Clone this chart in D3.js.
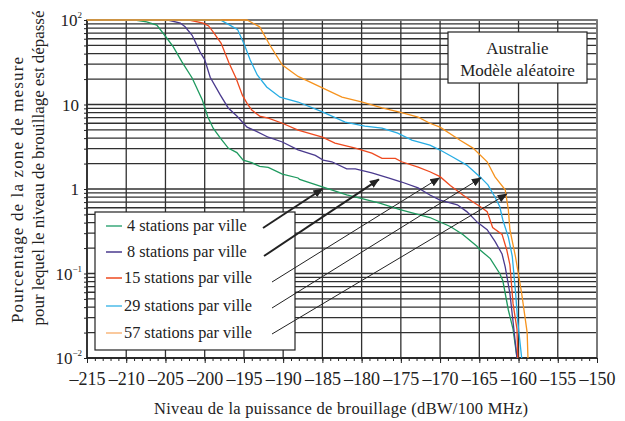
<!DOCTYPE html>
<html>
<head>
<meta charset="utf-8">
<script src="https://cdn.jsdelivr.net/npm/d3@7/dist/d3.min.js"></script>
<style>
  html, body { margin: 0; padding: 0; background: #fff; }
  svg { display: block; }
</style>
</head>
<body>
<svg id="chart" width="625" height="421"></svg>
<script>
// Interference level (dBW/100 MHz) vs percentage of the measurement area exceeded
const FONT = "Liberation Serif";
const seriesLabels = [
  "4 stations par ville",
  "8 stations par ville",
  "15 stations par ville",
  "29 stations par ville",
  "57 stations par ville"
];
const seriesColors = ["#1f9a5f", "#4a3a8e", "#ee4a1f", "#27ade4", "#f6931e"];
const legendColors = ["#3aa97b", "#4a3a8e", "#ee4a1f", "#4cbbe8", "#f8b77c"];

const series4 = [
  [-215,100],[-208.9,100],[-207.4,95],[-206.1,87],[-205.1,66],[-204.0,48],[-202.9,32],
  [-201.6,20.6],[-200.3,11.3],[-199.6,7.1],[-198.9,5.2],[-198.0,4.0],[-197.0,3.05],
  [-195.9,2.7],[-195.1,2.2],[-194.0,2.05],[-193.0,1.85],[-191.9,1.8],[-190.1,1.5],
  [-188.1,1.35],[-187.9,1.3],[-185.0,1.06],[-181.9,0.85],[-180.2,0.78],[-177.7,0.68],
  [-175.1,0.57],[-171.3,0.46],[-168.7,0.36],[-167.1,0.29],[-165.3,0.21],[-164.9,0.19],
  [-163.6,0.15],[-162.4,0.10],[-162.0,0.082],[-161.3,0.037],[-160.7,0.022],[-160.2,0.01]
];
const series8 = [
  [-215,100],[-204.7,100],[-203.1,92],[-202.5,83],[-201.6,66],[-200.6,42],[-200.0,34],
  [-199.3,21],[-198.0,12.9],[-197.0,9.1],[-195.9,7.3],[-194.6,5.4],[-193.6,4.9],
  [-191.9,4.1],[-190.1,3.6],[-188.1,2.9],[-185.9,2.5],[-184.9,2.2],[-183.8,2.1],
  [-181.9,1.73],[-180.8,1.73],[-178.7,1.55],[-176.6,1.35],[-174.9,1.21],[-172.8,1.03],
  [-171.3,0.85],[-170.0,0.74],[-167.8,0.65],[-166.6,0.54],[-165.2,0.40],[-164.0,0.33],
  [-163.0,0.24],[-162.1,0.17],[-161.7,0.12],[-161.1,0.058],[-160.7,0.027],[-160.2,0.01]
];
const series15 = [
  [-215,100],[-202.0,100],[-200.2,92],[-199.5,85],[-198.9,72],[-197.9,53],[-196.9,31],
  [-196.0,20.5],[-195.2,12.9],[-194.6,10.3],[-194.0,8.6],[-193.0,7.3],[-191.9,6.9],
  [-190.1,6.0],[-188.1,4.97],[-185.0,4.1],[-183.4,3.5],[-180.8,3.05],[-178.7,2.66],
  [-177.4,2.3],[-175.7,2.3],[-174.9,2.1],[-172.8,1.82],[-171.3,1.6],[-170.0,1.4],
  [-168.7,1.1],[-167.1,0.85],[-165.9,0.71],[-164.9,0.62],[-164.0,0.54],[-163.3,0.35],
  [-162.1,0.29],[-161.5,0.19],[-161.1,0.127],[-160.7,0.044],[-160.2,0.022],[-160.1,0.01]
];
const series29 = [
  [-215,100],[-198.0,100],[-196.8,87],[-195.8,77],[-194.9,50],[-194.2,33.7],[-193.3,22.4],
  [-192.1,16.1],[-190.4,12.2],[-188.1,10.7],[-185.0,8.2],[-182.1,6.2],[-179.6,5.55],
  [-177.4,5.25],[-175.4,4.58],[-173.6,3.79],[-171.3,3.31],[-170.0,2.89],[-168.4,2.39],
  [-166.6,1.92],[-164.9,1.39],[-163.9,1.12],[-163.0,0.80],[-162.4,0.62],[-162.0,0.43],
  [-161.3,0.27],[-160.8,0.16],[-160.4,0.063],[-160.1,0.027],[-159.6,0.01]
];
const series57 = [
  [-215,100],[-194.6,100],[-193.0,83],[-191.7,50.6],[-190.1,29.3],[-188.1,21.5],
  [-185.0,15.7],[-182.5,12.2],[-179.9,10.7],[-177.4,9.1],[-174.9,8.0],[-172.8,7.1],
  [-171.3,6.0],[-170.0,5.4],[-167.5,3.8],[-165.8,3.05],[-164.0,2.1],[-163.0,1.39],
  [-161.7,0.98],[-161.3,0.57],[-161.1,0.33],[-160.4,0.16],[-159.6,0.058],[-158.9,0.020],
  [-158.8,0.01]
];
const allSeries = [series4, series8, series15, series29, series57];

// Points on each curve that the legend arrows point at
const arrowTargets = [[-185.0,1.0],[-177.8,1.3],[-170.1,1.35],[-164.8,1.35],[-161.5,0.87]];

const xTickValues = d3.range(-215, -149, 5);
const yDecades = [100, 10, 1, 0.1, 0.01];
const yTickLabels = [["10","2"],["10",""],["1",""],["10","\u22121"],["10","\u22122"]];

const margin = {left: 87, right: 28, top: 20, bottom: 63};
const W = 625, H = 421;
const x = d3.scaleLinear().domain([-215, -150]).range([margin.left, W - margin.right]);
const y = d3.scaleLog().domain([0.01, 100]).range([H - margin.bottom, margin.top]);

const svg = d3.select("#chart").attr("font-family", FONT);

const defs = svg.append("defs");
defs.append("clipPath").attr("id", "plotClip")
  .append("rect").attr("x", x(-215)).attr("y", y(100) - 1)
  .attr("width", x(-150) - x(-215)).attr("height", y(0.01) - y(100) + 2);
defs.append("marker")
  .attr("id", "head").attr("viewBox", "0 0 10 10").attr("refX", 9).attr("refY", 5)
  .attr("markerWidth", 10).attr("markerHeight", 10).attr("markerUnits", "userSpaceOnUse")
  .attr("orient", "auto")
  .append("path").attr("d", "M0,1 L10,5 L0,9 Z").attr("fill", "#222");

// Grid
const grid = svg.append("g");
const minorY = [];
[0.01, 0.1, 1, 10].forEach(d => { for (let k = 1; k < 10; k++) minorY.push(d * k); });
minorY.push(100);
grid.selectAll("line.h").data(minorY).join("line")
  .attr("x1", x(-215)).attr("x2", x(-150))
  .attr("y1", d => y(d)).attr("y2", d => y(d))
  .attr("stroke", "#303030").attr("stroke-width", 1.3);
grid.selectAll("line.v").data(xTickValues).join("line")
  .attr("x1", d => x(d)).attr("x2", d => x(d))
  .attr("y1", y(100)).attr("y2", y(0.01))
  .attr("stroke", "#303030").attr("stroke-width", 1.3);

// Frame
svg.append("rect")
  .attr("x", x(-215)).attr("y", y(100))
  .attr("width", x(-150) - x(-215)).attr("height", y(0.01) - y(100))
  .attr("fill", "none").attr("stroke", "#7a7a7a").attr("stroke-width", 1.8);
svg.append("line").attr("x1", x(-215)).attr("x2", x(-215))
  .attr("y1", y(100)).attr("y2", y(0.01)).attr("stroke", "#111").attr("stroke-width", 1.3);
svg.append("line").attr("x1", x(-215)).attr("x2", x(-150))
  .attr("y1", y(0.01)).attr("y2", y(0.01)).attr("stroke", "#111").attr("stroke-width", 1.3);

// X axis: minor ticks every unit, labelled major ticks every 5
svg.append("g").attr("transform", `translate(0,${y(0.01)})`)
  .call(d3.axisBottom(x).tickValues(d3.range(-215, -149, 1)).tickSize(3).tickFormat(""))
  .call(g => g.select(".domain").remove())
  .call(g => g.selectAll("line").attr("stroke", "#222"));
svg.append("g").attr("transform", `translate(0,${y(0.01)})`)
  .call(d3.axisBottom(x).tickValues(xTickValues).tickSize(5).tickPadding(9)
    .tickFormat(d => "\u2013" + Math.abs(d)))
  .call(g => g.attr("font-family", FONT).attr("font-size", 18))
  .call(g => g.select(".domain").remove())
  .call(g => g.selectAll("line").attr("stroke", "#222"))
  .call(g => g.selectAll("text").attr("fill", "#222"));

// Y axis ticks and power-of-ten labels
svg.append("g").attr("transform", `translate(${x(-215)},0)`)
  .call(d3.axisLeft(y).tickValues(minorY).tickSize(3).tickFormat(""))
  .call(g => g.select(".domain").remove())
  .call(g => g.selectAll("line").attr("stroke", "#222"));
const yLab = svg.append("g");
yDecades.forEach((d, i) => {
  const [base, exp] = yTickLabels[i];
  const t = yLab.append("text")
    .attr("x", x(-215) - (exp ? 5 : 8)).attr("y", y(d) + 6)
    .attr("text-anchor", "end").attr("font-family", FONT)
    .attr("font-size", 17).attr("fill", "#222");
  t.append("tspan").text(base);
  if (exp) t.append("tspan").attr("dy", -8).attr("font-size", 9).text(exp);
});

// Curves
const line = d3.line().x(d => x(d[0])).y(d => y(d[1]));
svg.append("g").attr("clip-path", "url(#plotClip)")
  .selectAll("path").data(allSeries).join("path")
  .attr("d", line).attr("fill", "none")
  .attr("stroke", (d, i) => seriesColors[i]).attr("stroke-width", 1.3);

// Annotation box
const ann = svg.append("g").attr("font-family", FONT);
ann.append("rect").attr("x", 448).attr("y", 32).attr("width", 139).attr("height", 51)
  .attr("fill", "#fff").attr("stroke", "#222").attr("stroke-width", 1.2);
ann.append("text").attr("x", 517.5).attr("y", 54).attr("text-anchor", "middle")
  .attr("font-size", 17).attr("fill", "#222").text("Australie");
ann.append("text").attr("x", 517.5).attr("y", 76).attr("text-anchor", "middle")
  .attr("font-size", 17).attr("fill", "#222").text("Modèle aléatoire");

// Legend
const leg = svg.append("g").attr("font-family", FONT);
leg.append("rect").attr("x", 95).attr("y", 212).attr("width", 200).attr("height", 138)
  .attr("fill", "#fff").attr("stroke", "#222").attr("stroke-width", 1.2);
const rowY = [225, 251, 277, 305, 332];
const arrowStart = [[263,228],[264,256],[272,282],[272,308],[272,334]];
seriesLabels.forEach((lab, i) => {
  leg.append("line").attr("x1", 106).attr("x2", 122)
    .attr("y1", rowY[i] + 1).attr("y2", rowY[i] + 1)
    .attr("stroke", legendColors[i]).attr("stroke-width", 1.5);
  leg.append("text").attr("x", i < 2 ? 127 : 124).attr("y", rowY[i] + 6)
    .attr("font-size", 16.3).attr("fill", "#222").text(lab);
});

// Arrows from legend entries to their curves
svg.append("g").selectAll("line").data(arrowTargets).join("line")
  .attr("x1", (d, i) => arrowStart[i][0]).attr("y1", (d, i) => arrowStart[i][1])
  .attr("x2", d => x(d[0])).attr("y2", d => y(d[1]))
  .attr("stroke", "#222").attr("stroke-width", (d, i) => i < 2 ? 2 : 1)
  .attr("marker-end", "url(#head)");

// Axis titles
svg.append("text").attr("x", 341).attr("y", 414).attr("text-anchor", "middle")
  .attr("font-family", FONT).attr("font-size", 16.5).attr("fill", "#222")
  .attr("textLength", 374).attr("lengthAdjust", "spacing")
  .text("Niveau de la puissance de brouillage (dBW/100 MHz)");
svg.append("text").attr("transform", "translate(23,190) rotate(-90)")
  .attr("text-anchor", "middle").attr("font-family", FONT).attr("font-size", 17)
  .attr("textLength", 266).attr("lengthAdjust", "spacing").attr("fill", "#222")
  .text("Pourcentage de la zone de mesure");
svg.append("text").attr("transform", "translate(44,168) rotate(-90)")
  .attr("text-anchor", "middle").attr("font-family", FONT).attr("font-size", 17)
  .attr("textLength", 315).attr("lengthAdjust", "spacing").attr("fill", "#222")
  .text("pour lequel le niveau de brouillage est dépassé");
</script>
</body>
</html>
